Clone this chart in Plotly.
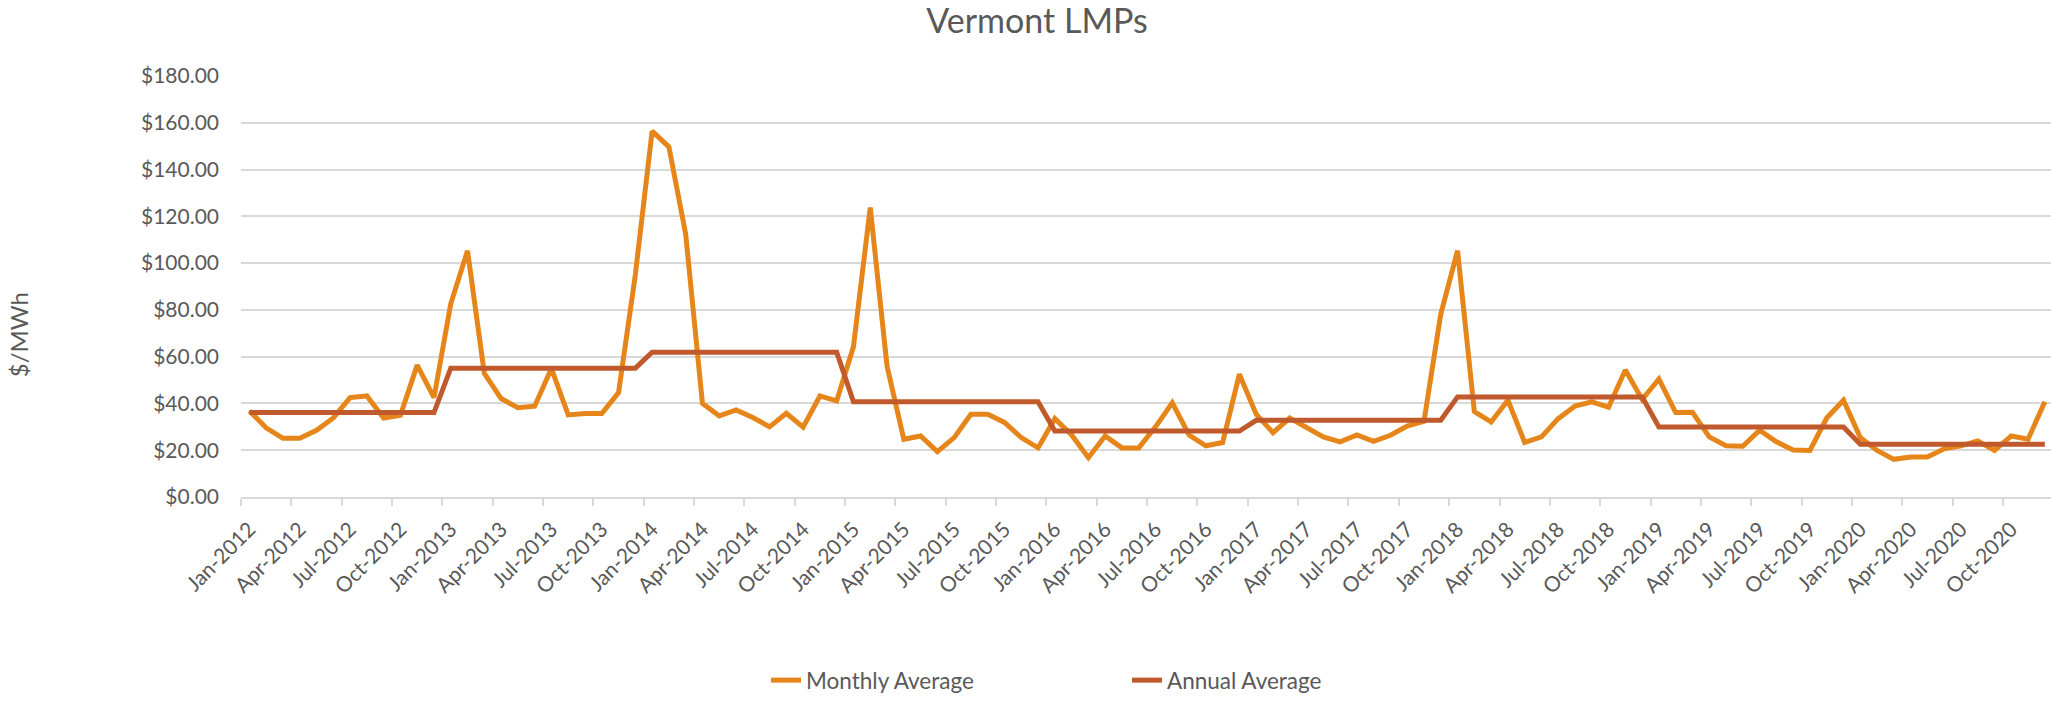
import plotly.graph_objects as go

YEARS = [2012, 2013, 2014, 2015, 2016, 2017, 2018, 2019, 2020]
MONTH_ABBR = ["Jan", "Feb", "Mar", "Apr", "May", "Jun",
              "Jul", "Aug", "Sep", "Oct", "Nov", "Dec"]

# Monthly average LMP ($/MWh), Jan-2012 .. Dec-2020
monthly_2012 = [36.8, 29.6, 25.1, 25.1, 28.5, 33.8, 42.5, 43.2, 33.8, 34.9, 56.4, 42.5]
monthly_2013 = [82.6, 105.3, 52.9, 42.1, 38.2, 38.8, 54.9, 35.1, 35.7, 35.7, 44.6, 95.0]
monthly_2014 = [156.4, 149.7, 112.4, 40.0, 34.7, 37.2, 34.0, 30.0, 35.8, 29.9, 43.2, 41.1]
monthly_2015 = [64.3, 123.8, 56.0, 24.7, 26.1, 19.4, 25.4, 35.4, 35.4, 31.9, 25.4, 21.0]
monthly_2016 = [33.5, 26.5, 16.8, 26.1, 21.0, 21.0, 30.0, 40.3, 26.5, 21.9, 23.3, 52.5]
monthly_2017 = [35.4, 27.5, 33.75, 30.0, 25.7, 23.6, 26.5, 23.75, 26.4, 30.3, 32.4, 78.2]
monthly_2018 = [105.3, 36.5, 32.1, 41.4, 23.3, 25.7, 33.5, 38.9, 40.7, 38.4, 54.3, 41.7]
monthly_2019 = [50.4, 36.1, 36.25, 25.7, 21.9, 21.7, 28.6, 23.6, 20.1, 19.9, 33.75, 41.4]
monthly_2020 = [25.4, 19.9, 16.1, 17.1, 17.1, 20.6, 21.9, 24.0, 19.9, 26.1, 24.7, 40.7]

# Annual average LMP ($/MWh) per year
annual_avg = [36.1, 55.1, 61.9, 40.7, 28.2, 32.8, 42.8, 29.9, 22.6]

monthly = (monthly_2012 + monthly_2013 + monthly_2014 + monthly_2015 + monthly_2016
           + monthly_2017 + monthly_2018 + monthly_2019 + monthly_2020)
months = [f"{m}-{y}" for y in YEARS for m in MONTH_ABBR]
annual_by_month = [a for a in annual_avg for _ in MONTH_ABBR]

idx = list(range(len(months)))
tick_idx = idx[::3]
tick_labels = months[::3]

FONT = "Lato, 'Open Sans', sans-serif"
GREY = "#595959"
GRID = "#d9d9d9"

W, H = 2051, 702
PL, PT, PB = 241, 76, 508          # plot area left / top / bottom (px)
MONTH_PX = 16.78
plot_w = W - PL
plot_h = PB - PT

fig = go.Figure()
fig.add_trace(go.Scatter(x=idx, y=monthly, mode="lines", name="Monthly Average",
                         line=dict(color="#E6861A", width=5), customdata=months,
                         hovertemplate="%{customdata}: $%{y:.2f}<extra></extra>"))
fig.add_trace(go.Scatter(x=idx, y=annual_by_month, mode="lines", name="Annual Average",
                         line=dict(color="#C05A2D", width=5), customdata=months,
                         hovertemplate="%{customdata}: $%{y:.2f}<extra></extra>"))

fig.update_layout(
    width=W, height=H,
    margin=dict(l=PL, r=0, t=PT, b=H - PB, pad=0),
    paper_bgcolor="white", plot_bgcolor="white",
    font=dict(family=FONT, color=GREY, size=21),
    title=dict(text="Vermont LMPs", x=1037 / W, xref="container", xanchor="center",
               y=1 - 21 / H, yref="container", yanchor="middle",
               font=dict(family=FONT, size=34, color=GREY)),
    xaxis=dict(
        range=[-0.5, -0.5 + plot_w / MONTH_PX],
        tickmode="array", tickvals=tick_idx, ticktext=tick_labels,
        tickangle=-45, ticks="", ticklabelstandoff=10,
        tickfont=dict(family=FONT, size=21, color=GREY),
        showgrid=False, zeroline=False,
        showline=True, linecolor=GRID, linewidth=1.5,
        minor=dict(tickmode="linear", tick0=-0.5, dtick=3, ticks="outside",
                   ticklen=7, tickcolor=GRID, tickwidth=1.5, showgrid=False),
    ),
    yaxis=dict(
        range=[0, 180], dtick=20, tick0=0,
        tickprefix="$", tickformat=".2f",
        tickfont=dict(family=FONT, size=21, color=GREY),
        showgrid=True, gridcolor=GRID, gridwidth=1.5,
        zeroline=False, showline=False, ticks="", ticklabelstandoff=21,
    ),
    legend=dict(orientation="h", xref="paper", x=(766 - PL) / plot_w, xanchor="left",
                yref="paper", y=(PB - 697) / plot_h, yanchor="middle",
                entrywidth=316, entrywidthmode="pixels",
                font=dict(family=FONT, size=22.5, color=GREY)),
    annotations=[dict(text="$/MWh", xref="paper", yref="paper",
                      x=(18 - PL) / plot_w, y=(PB - 342) / plot_h,
                      xanchor="center", yanchor="middle", textangle=-90,
                      showarrow=False, font=dict(family=FONT, size=24, color=GREY))],
)

fig.write_html("out.html", config={"displayModeBar": False},
               post_script="document.body.style.margin='0';document.body.style.overflow='hidden';")
